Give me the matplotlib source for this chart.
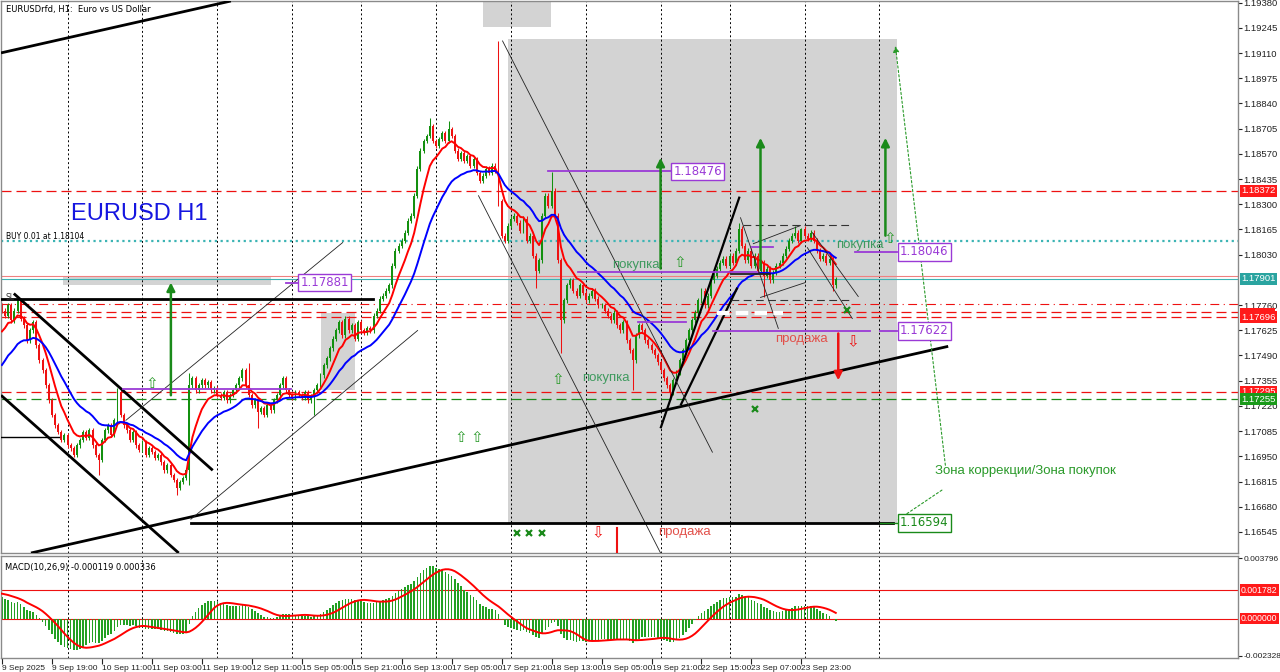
import numpy as np
import matplotlib.pyplot as plt
from matplotlib.patches import Rectangle

plt.rcParams['font.family'] = ['DejaVu Sans']

# ---- hourly candles, EURUSD H1 (bar index 0 = 9 Sep 2025 03:00) ----
closes = [
    1.17731, 1.17704, 1.17758, 1.17678, 1.17731, 1.17785, 1.17688, 1.17651, 1.17571, 1.17624,
    1.17667, 1.17544, 1.17464, 1.17410, 1.17330, 1.17250, 1.17170, 1.17116, 1.17079,
    1.17036, 1.17063, 1.17009, 1.16993, 1.16956, 1.17009, 1.17036, 1.17079, 1.17047, 1.17089,
    1.17009, 1.16956, 1.16929, 1.17036, 1.17089, 1.17116, 1.17063, 1.17143, 1.17293, 1.17170,
    1.17116, 1.17089, 1.17036, 1.17079, 1.17009, 1.16983, 1.17025, 1.16956, 1.16993, 1.16972,
    1.16940, 1.16956, 1.16918, 1.16875, 1.16902, 1.16849, 1.16822, 1.16779, 1.16811,
    1.16833, 1.16875, 1.17330, 1.17367, 1.17303, 1.17330,
    1.17357, 1.17330, 1.17346, 1.17303, 1.17314, 1.17277, 1.17261, 1.17293, 1.17250, 1.17277,
    1.17303, 1.17330, 1.17367, 1.17410, 1.17330, 1.17277, 1.17223, 1.17250, 1.17186, 1.17207,
    1.17170, 1.17223, 1.17196, 1.17250, 1.17277, 1.17330, 1.17367, 1.17303, 1.17277, 1.17261,
    1.17293, 1.17277,
    1.17261, 1.17293, 1.17250, 1.17271, 1.17303, 1.17330,
    1.17384, 1.17437, 1.17474, 1.17528, 1.17581, 1.17624, 1.17667, 1.17598, 1.17688, 1.17624,
    1.17651, 1.17581, 1.17667, 1.17624, 1.17613, 1.17635,
    1.17624, 1.17704, 1.17731, 1.17795, 1.17811, 1.17838, 1.17865, 1.17972, 1.18052, 1.18079,
    1.18105, 1.18148, 1.18213, 1.18239, 1.18346, 1.18491,
    1.18587, 1.18640, 1.18667, 1.18720, 1.18640, 1.18614, 1.18651, 1.18683, 1.18640, 1.18704,
    1.18667, 1.18587, 1.18544, 1.18576, 1.18533, 1.18560, 1.18507, 1.18544, 1.18469, 1.18426,
    1.18453, 1.18491, 1.18469, 1.18507, 1.18480,
    1.18319,
    1.18132, 1.18105, 1.18186, 1.18223, 1.18239, 1.18202, 1.18159, 1.18223, 1.18105, 1.18132,
    1.18025, 1.17945, 1.17999,
    1.18239, 1.18346, 1.18293, 1.18373, 1.18239, 1.17999, 1.17678,
    1.17785, 1.17865, 1.17892, 1.17838, 1.17811, 1.17865, 1.17827, 1.17785, 1.17811, 1.17838,
    1.17795, 1.17758,
    1.17758, 1.17731, 1.17704, 1.17678, 1.17720, 1.17651, 1.17624, 1.17667, 1.17571, 1.17517,
    1.17464,
    1.17598, 1.17651, 1.17624, 1.17571, 1.17544, 1.17517, 1.17490, 1.17453, 1.17410, 1.17367,
    1.17330, 1.17293, 1.17357,
    1.17400, 1.17464, 1.17517, 1.17571, 1.17624, 1.17678, 1.17720, 1.17785, 1.17838, 1.17758,
    1.17811, 1.17892, 1.17918, 1.17956, 1.17988, 1.18009, 1.17972, 1.18025, 1.17988, 1.18052,
    1.18170,
    1.18079, 1.17999, 1.18052, 1.17972, 1.18025, 1.17945, 1.17988, 1.17918, 1.17956, 1.17892,
    1.17934, 1.17972,
    1.17988, 1.18025, 1.18063, 1.18105, 1.18132, 1.18148, 1.18105, 1.18170, 1.18132, 1.18116,
    1.18148, 1.18105,
    1.18052, 1.18009, 1.18025, 1.17988, 1.18009, 1.17865, 1.17901,
]
first_open = 1.17758
# wicks that stick out further than usual
wick_highs = {5: 1.17811, 37: 1.17314, 60: 1.17394, 79: 1.17448, 137: 1.18763, 143: 1.18747,
              159: 1.19175, 176: 1.18474, 236: 1.18202, 254: 1.18186, 256: 1.18175}
wick_lows = {31: 1.16849, 56: 1.16742, 60: 1.16795, 82: 1.17100, 100: 1.17170, 159: 1.18293,
             171: 1.17854, 179: 1.17501, 202: 1.17303, 214: 1.17250, 244: 1.17801, 266: 1.17838}
typical_wick = 0.00012

# indicator settings and warm-up values read at the left edge
red_ma_period, blue_ma_period = 8, 21
red_ma_start, blue_ma_start = 1.17587, 1.17410
macd_fast_start, macd_slow_start, macd_signal_start = 1.17700, 1.17560, 0.0016

# axis labels
time_labels = ["9 Sep 2025", "9 Sep 19:00", "10 Sep 11:00", "11 Sep 03:00", "11 Sep 19:00",
               "12 Sep 11:00", "15 Sep 05:00", "15 Sep 21:00", "16 Sep 13:00", "17 Sep 05:00",
               "17 Sep 21:00", "18 Sep 13:00", "19 Sep 05:00", "19 Sep 21:00", "22 Sep 15:00",
               "23 Sep 07:00", "23 Sep 23:00"]
day_grid_bars = [21, 45, 69, 93, 115, 139, 163, 187, 211, 233, 257, 281]
price_ticks = [1.19380, 1.19245, 1.19110, 1.18975, 1.18840, 1.18705, 1.18570, 1.18435, 1.18300,
               1.18165, 1.18030, 1.17760, 1.17625, 1.17490, 1.17355, 1.17220, 1.17085,
               1.16950, 1.16815, 1.16680, 1.16545]

# horizontal levels
red_dash_levels = [1.18372, 1.17724, 1.17696, 1.17295]
green_dash_level = 1.17255
redline_dashdot = 1.17768
buy_level = 1.18104
bid, ask = 1.17901, 1.17915

GREEN = '#13900f'
RED = '#ee1111'
PURPLE = '#9a3ad6'
TXT_GREEN = '#3f9a5f'
TXT_RED = '#e2504a'
AXFONT = 'Liberation Sans'


def ema(values, period, start):
    k = 2.0 / (period + 1)
    out, prev = [], start
    for v in values:
        prev = prev + k * (v - prev)
        out.append(prev)
    return np.array(out)


c = np.array(closes)
o = np.r_[first_open, c[:-1]]
hi = np.maximum(o, c) + typical_wick
lo = np.minimum(o, c) - typical_wick
for k, v in wick_highs.items():
    hi[k] = v
for k, v in wick_lows.items():
    lo[k] = v
x = np.arange(len(c))

red_ma = ema(c, red_ma_period, red_ma_start)
blue_ma = ema(c, blue_ma_period, blue_ma_start)
macd_main = ema(c, 10, macd_fast_start) - ema(c, 26, macd_slow_start)
hist = np.r_[[macd_signal_start] * 8, macd_main]
macd_signal = np.array([hist[i:i + 9].mean() for i in range(len(macd_main))])

fig = plt.figure(figsize=(12.8, 6.72), dpi=100)
ax = fig.add_axes([1 / 1280, 1 - 553 / 672, 1237 / 1280, 552 / 672])
ax2 = fig.add_axes([1 / 1280, 1 - 658 / 672, 1237 / 1280, 102 / 672])

for a in (ax, ax2):
    a.set_xlim(-0.3, 395.8)
    for s in a.spines.values():
        s.set_color('#8a8a8a')
        s.set_linewidth(1)
    for b in day_grid_bars:
        a.axvline(b, color='black', lw=0.7, ls=(0, (2, 2.5)), zorder=0.8)

ax.set_ylim(1.16432, 1.19389)
ax2.set_ylim(-0.00248, 0.00394)

# gray zones
for (b0, b1, p0, p1) in [(162.2, 286.7, 1.16594, 1.19186), (154.2, 175.7, 1.19250, 1.19400),
                         (19.5, 86.1, 1.17865, 1.17918), (102.1, 113.0, 1.17303, 1.17720)]:
    ax.add_patch(Rectangle((b0, p0), b1 - b0, p1 - p0, fc='#d3d3d3', ec='none', zorder=0.5))

# horizontal levels
for lvl in red_dash_levels:
    ax.axhline(lvl, color=RED, lw=0.9, ls=(0, (8, 4)), zorder=1)
ax.axhline(green_dash_level, color='#1a8a1a', lw=0.9, ls=(0, (8, 4)), zorder=1)
ax.axhline(redline_dashdot, color=RED, lw=0.8, ls=(0, (8, 4, 1, 4)), zorder=1)
ax.axhline(buy_level, color='#3cb4b4', lw=1.6, ls=(0, (1, 1.6)), zorder=1)
ax.axhline(ask, color='#f08080', lw=0.8, zorder=1)
ax.axhline(bid, color='#3cb4b4', lw=0.8, zorder=1)

# candles
cols = np.where(c >= o, GREEN, RED)
ax.vlines(x, lo, hi, colors=cols, lw=0.75, zorder=2)
ax.bar(x, np.maximum(np.abs(c - o), 0.00003), bottom=np.minimum(o, c), width=0.62,
       color=cols, zorder=2)
ax.plot(x, red_ma, color='#ff0000', lw=1.4, zorder=3)
ax.plot(x, blue_ma, color='#0000ff', lw=1.4, zorder=3)

# trend lines (bar, price pairs)
thick = [((-0.3, 73.3), (1.19111, 1.19389)), ((9.3, 303.0), (1.16432, 1.17539)),
         ((3.8, 67.5), (1.17822, 1.16875)), ((-0.3, 56.6), (1.17277, 1.16432)),
         ((210.9, 236.2), (1.17100, 1.18341)), ((217.3, 235.5), (1.17223, 1.17854))]
for bx, py in thick:
    ax.plot(bx, py, color='black', lw=1.6 if bx[0] > 200 else 2.0, zorder=4, solid_capstyle='butt')
thin = [((39.7, 109.1), (1.17143, 1.18095)), ((60.5, 133.1), (1.16613, 1.17624)),
        ((160.3, 227.5), (1.19175, 1.16972)), ((152.6, 210.9), (1.18346, 1.16432)),
        ((236.5, 248.6), (1.18228, 1.17635)), ((240.6, 255.7), (1.18089, 1.18186)),
        ((242.9, 257.3), (1.17801, 1.17881)), ((259.5, 274.2), (1.18148, 1.17806)),
        ((257.9, 272.3), (1.18068, 1.17688))]
for bx, py in thin:
    ax.plot(bx, py, color='#222222', lw=0.6, zorder=4)

ax.plot((-0.3, 118.7), (1.17795, 1.17795), color='black', lw=2.0, zorder=4)
ax.plot((-0.3, 18.2), (1.17052, 1.17052), color='black', lw=1.0, zorder=4)
ax.plot((60.5, 285.4), (1.16594, 1.16594), color='black', lw=2.0, zorder=4)
ax.plot((237.4, 271.7), (1.18191, 1.18191), color='#333333', lw=0.8, ls=(0, (7, 4)), zorder=4)
ax.plot((233.3, 271.7), (1.17785, 1.17785), color='#333333', lw=0.8, ls=(0, (7, 4)), zorder=4)
ax.plot((233.3, 246.1), (1.17924, 1.17924), color='#222222', lw=1.3, zorder=4)
ax.plot((229.1, 250.2), (1.17715, 1.17715), color='white', lw=3, ls=(0, (3, 1.5)), zorder=4)

# purple levels
purple_segments = [((175.0, 214.1), 1.18476), ((184.6, 241.9), 1.17935), ((273.3, 286.7), 1.18046),
                   ((227.8, 278.1), 1.17622), ((281.3, 286.7), 1.17622), ((203.8, 218.9), 1.17672),
                   ((240.3, 247.0), 1.18073), ((38.7, 92.5), 1.17309), ((90.9, 94.7), 1.17881)]
for (b0, b1), p in purple_segments:
    ax.plot((b0, b1), (p, p), color=PURPLE, lw=1.3, zorder=4)
ax.plot((281.3, 286.7), (1.16594, 1.16594), color='#1a8a1a', lw=1.0, zorder=4)

for b, p, txt, col in [(215.0, 1.18476, '1.18476', PURPLE), (287.6, 1.18046, '1.18046', PURPLE),
                       (287.6, 1.17622, '1.17622', PURPLE), (95.6, 1.17881, '1.17881', PURPLE),
                       (287.6, 1.16594, '1.16594', '#1a8a1a')]:
    ax.text(b, p, txt, color=col, fontsize=8.5, ha='left', va='center', zorder=6,
            bbox=dict(boxstyle='square,pad=0.2', fc='white', ec=col, lw=1))

# arrows
for b, p0, p1, col in [(54.1, 1.17277, 1.17881, '#1a8a1a'), (210.9, 1.17956, 1.18549, '#1a8a1a'),
                       (242.9, 1.17956, 1.18656, '#1a8a1a'), (282.9, 1.18132, 1.18656, '#1a8a1a'),
                       (267.8, 1.17608, 1.17357, RED)]:
    ax.annotate('', xy=(b, p1), xytext=(b, p0), zorder=5,
                arrowprops=dict(arrowstyle='-|>', color=col, lw=1.8, mutation_scale=12,
                                shrinkA=0, shrinkB=0))
ax.plot((196.8, 196.8), (1.16565, 1.16432), color=RED, lw=1.5, zorder=5)
for (b0, p0), (b1, p1) in [((302.1, 1.16902), (286.1, 1.19148)), ((301.0, 1.16769), (286.7, 1.16608))]:
    ax.annotate('', xy=(b1, p1), xytext=(b0, p0), zorder=5,
                arrowprops=dict(arrowstyle='-|>', color='#2a9a2a', lw=0.8, ls=(0, (2, 2)),
                                mutation_scale=9, shrinkA=0, shrinkB=0))

for b, p in [(48.0, 1.17341), (146.9, 1.17052), (152.0, 1.17052), (177.9, 1.17362),
             (217.0, 1.17988), (284.2, 1.18116)]:
    ax.text(b, p, '\u21e7', color='#2a9a2a', fontsize=11, ha='center', va='center', zorder=5)
for b, p in [(190.7, 1.16539), (272.6, 1.17565)]:
    ax.text(b, p, '\u21e9', color=RED, fontsize=11, ha='center', va='center', zorder=5)
ax.plot([164.8, 168.9, 172.8, 270.7, 241.0], [1.16539, 1.16539, 1.16539, 1.17736, 1.17202],
        ls='none', marker='x', ms=4.5, mew=1.6, color='#1a8a1a', zorder=5)

# texts
for b, p in [(202.9, 1.17977), (193.3, 1.17367), (274.6, 1.18084)]:
    ax.text(b, p, 'покупка', color=TXT_GREEN, fontsize=9.5, family='Liberation Sans',
            ha='center', va='center', zorder=5)
for b, p in [(256.0, 1.17581), (218.6, 1.16544)]:
    ax.text(b, p, 'продажа', color=TXT_RED, fontsize=9.5, family='Liberation Sans',
            ha='center', va='center', zorder=5)
ax.text(298.9, 1.16870, 'Зона коррекции/Зона покупок', color='#2a9a2a', fontsize=9.5,
        family='Liberation Sans', ha='left', va='center', zorder=5)
ax.text(22.1, 1.18250, 'EURUSD H1', color='#1515e0', fontsize=17, family='Liberation Sans',
        ha='left', va='center', zorder=5)
ax.text(1.3, 1.18128, 'BUY 0.01 at 1.18104', color='black', fontsize=5.5, ha='left',
        va='center', zorder=5)
ax.text(1.3, 1.17803, 'SL', color='#333333', fontsize=5.5, ha='left', va='center', zorder=5)
ax.text(0.004, 0.993, 'EURUSDrfd, H1:  Euro vs US Dollar', transform=ax.transAxes,
        fontsize=6, ha='left', va='top', zorder=6)

# price axis
ax.yaxis.tick_right()
ax.set_yticks(price_ticks)
ax.set_yticklabels([f'{p:.5f}' for p in price_ticks], family=AXFONT)
ax.tick_params(axis='y', direction='out', length=3, pad=1, labelsize=6.8, colors='#222222')
ax.set_xticks([])
ytr = ax.get_yaxis_transform()
# ask and 1.17724 markers mostly hidden behind neighbouring labels
for p in (ask, 1.17724):
    ax.add_patch(Rectangle((1.0015, p - 0.00006), 0.0285, 0.00024, transform=ytr, fc='#ff1a1a',
                           ec='none', clip_on=False, zorder=6.5))
for p, txt, fc in [(1.18372, '1.18372', '#ff1a1a'), (bid, '1.17901', '#2aa4a0'),
                   (1.17696, '1.17696', '#ff1a1a'),
                   (1.17295, '1.17295', '#ff1a1a'), (1.17255, '1.17255', '#1a9a1a')]:
    ax.text(1.0025, p, txt, transform=ytr, fontsize=6.8, family=AXFONT, color='white', ha='left',
            va='center', clip_on=False, zorder=7,
            bbox=dict(boxstyle='square,pad=0.15', fc=fc, ec='none'))

# MACD panel
ax2.bar(x, macd_main, width=0.5, color='#22a022', zorder=2)
ax2.plot(x, macd_signal, color='#ff0000', lw=1.4, zorder=3)
ax2.axhline(0.001782, color=RED, lw=0.8, zorder=1)
ax2.axhline(0.0, color=RED, lw=0.8, zorder=1)
ax2.yaxis.tick_right()
ax2.set_yticks([0.003796, -0.002328])
ax2.set_yticklabels(['0.003796', '-0.002328'], family=AXFONT)
ax2.tick_params(axis='y', direction='out', length=3, pad=1, labelsize=6.0, colors='#222222')
ytr2 = ax2.get_yaxis_transform()
for p, txt in [(0.001782, '0.001782'), (0.0, '0.000000')]:
    ax2.text(1.0025, p, txt, transform=ytr2, fontsize=6.3, family=AXFONT, color='white', ha='left',
             va='center', clip_on=False, zorder=7,
             bbox=dict(boxstyle='square,pad=0.15', fc='#ff1a1a', ec='none'))
ax2.text(0.003, 0.93, 'MACD(10,26,9) -0.000119 0.000336', transform=ax2.transAxes, fontsize=6,
         ha='left', va='top', zorder=6)
ax2.set_xticks(np.arange(0, 16 * len(time_labels), 16))
ax2.set_xticklabels(time_labels, family=AXFONT)
ax2.tick_params(axis='x', direction='out', length=4, pad=1, labelsize=6.0, colors='#222222')
for lab in ax2.get_xticklabels():
    lab.set_horizontalalignment('left')

fig.savefig('out.png', dpi=100, facecolor='white')
